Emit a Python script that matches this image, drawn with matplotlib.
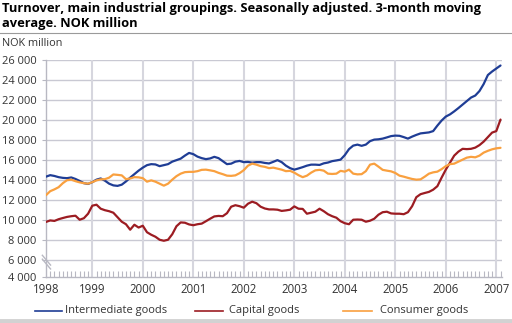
import numpy as np
import pandas as pd
import matplotlib
matplotlib.use("Agg")
import matplotlib.pyplot as plt
from matplotlib.lines import Line2D

plt.rcParams['font.family'] = ['Open Sans', 'DejaVu Sans']

title = "Turnover, main industrial groupings. Seasonally adjusted. 3-month moving\naverage. NOK million"
unit_label = "NOK million"
series_names = ["Intermediate goods", "Capital goods", "Consumer goods"]
series_colors = ["#1f3d95", "#9c1c22", "#f9a03f"]

months = pd.date_range("1998-02-01", periods=109, freq="MS")

intermediate = [
    14350, 14500, 14420, 14300, 14230, 14200, 14270, 14120, 13920, 13700, 13620,
    13800, 14050, 14170, 13950, 13650, 13480, 13430, 13550, 13870, 14250, 14600, 14950,
    15250, 15500, 15600, 15570, 15400, 15500, 15600, 15850, 16000, 16150, 16450, 16720,
    16600, 16350, 16200, 16100, 16170, 16330, 16200, 15900, 15600, 15650, 15850, 15920,
    15800, 15820, 15750, 15800, 15800, 15720, 15670, 15830, 16000, 15800, 15450, 15200,
    15050, 15170, 15300, 15450, 15550, 15550, 15520, 15680, 15760, 15900, 15970, 16050,
    16500, 17100, 17450, 17550, 17430, 17550, 17900, 18050, 18080, 18150, 18270, 18400,
    18450, 18430, 18300, 18150, 18350, 18520, 18670, 18720, 18770, 18900, 19450, 19950,
    20350, 20570, 20870, 21200, 21550, 21900, 22250, 22450, 22900, 23600, 24500, 24850,
    25150, 25450,
]
capital = [
    9830, 9980, 9930, 10100, 10220, 10330, 10400, 10450, 10050, 10200, 10650,
    11450, 11550, 11150, 11000, 10900, 10750, 10300, 9850, 9600, 9050, 9550, 9270,
    9450, 8800, 8550, 8350, 8050, 7950, 8050, 8600, 9400, 9780, 9750, 9580,
    9500, 9600, 9660, 9900, 10150, 10380, 10430, 10400, 10700, 11350, 11500, 11400,
    11250, 11650, 11850, 11700, 11350, 11170, 11080, 11080, 11050, 10930, 10980, 11050,
    11380, 11150, 11130, 10650, 10750, 10850, 11150, 10900, 10600, 10400, 10250, 9900,
    9700, 9600, 10050, 10070, 10050, 9850, 9950, 10150, 10550, 10800, 10850, 10680,
    10650, 10650, 10600, 10800, 11400, 12300, 12600, 12720, 12830, 13050, 13400, 14250,
    15050, 15750, 16450, 16850, 17130, 17100, 17130, 17250, 17500, 17850, 18300, 18750,
    18900, 20050,
]
consumer = [
    12500, 12900, 13080, 13300, 13700, 14000, 14050, 13900, 13780, 13700, 13650,
    13800, 13980, 14080, 14100, 14250, 14570, 14530, 14480, 14100, 14170, 14300, 14280,
    14200, 13850, 13980, 13850, 13650, 13450, 13650, 14050, 14400, 14650, 14800, 14830,
    14830, 14900, 15030, 15050, 14980, 14900, 14730, 14600, 14450, 14430, 14480, 14700,
    15000, 15450, 15650, 15550, 15400, 15330, 15200, 15250, 15150, 15050, 14900, 14930,
    14750, 14500, 14300, 14450, 14750, 14980, 15030, 14950, 14650, 14620, 14650, 14930,
    14850, 15050, 14650, 14580, 14600, 14900, 15550, 15650, 15350, 15030, 14950, 14880,
    14720, 14450, 14350, 14230, 14120, 14050, 14080, 14350, 14650, 14780, 14850, 15100,
    15400, 15600, 15650, 15850, 16050, 16250, 16330, 16280, 16450, 16750, 16930, 17080,
    17180, 17230,
]

year_labels = [str(y) for y in range(1998, 2008)]
y_ticks = [6000, 8000, 10000, 12000, 14000, 16000, 18000, 20000, 22000, 24000, 26000]
y_bottom_label = "4 000"

def fmt(v):
    return f"{v:,}".replace(",", " ")

# decimal year positions of monthly observations
t = months.year + (months.month - 1) / 12.0

W, H = 512, 323
fig = plt.figure(figsize=(W / 100, H / 100), dpi=100)
ax = fig.add_axes([46 / W, 1 - 277 / H, (502 - 46) / W, (277 - 60) / H])

ybot = 4330  # broken axis: nominal 4 000
ax.set_ylim(ybot, 26000)
ax.set_xlim(t[0], 2007.113)

grid_c = "#c9c9d3"
for y in y_ticks:
    ax.axhline(y, color=grid_c, lw=1.0, zorder=1)
for yr in range(1999, 2008):
    ax.axvline(yr, color="#d6d6de", lw=1.5, zorder=1)

data = [intermediate, capital, consumer]
for vals, c in zip(data, series_colors):
    ax.plot(t, vals, color=c, lw=1.6, zorder=3, solid_capstyle="round")

for s in ["top", "right"]:
    ax.spines[s].set_visible(False)
for s in ["left", "bottom"]:
    ax.spines[s].set_color("#b8b8c2")
    ax.spines[s].set_linewidth(1.0)

ax.set_yticks([ybot] + y_ticks)
ax.set_yticklabels([y_bottom_label] + [fmt(v) for v in y_ticks])
xt = [t[0]] + list(range(1999, 2008))
ax.set_xticks(xt)
ax.set_xticklabels(year_labels)
ax.set_xticks(t, minor=True)
ax.tick_params(axis="y", length=3, color="#b8b8c2", labelsize=8, labelcolor="#333333", pad=4)
ax.tick_params(axis="x", which="major", length=0, labelsize=8.3, labelcolor="#333333", pad=4)
ax.tick_params(axis="x", which="minor", direction="in", length=4, color="#b8b8c2", width=0.8)

# axis break marks
for dy in (0.0, 0.018):
    ax.plot([-0.008, 0.01], [0.10 - dy, 0.055 - dy], transform=ax.transAxes,
            color="#b8b8c2", lw=1.0, clip_on=False, zorder=4)

fig.text(2 / W, 1 - 2 / H, title, ha="left", va="top", fontsize=9.3,
         fontweight="bold", color="#000000", linespacing=1.15)
fig.add_artist(Line2D([0, 1], [1 - 33 / H] * 2, color="#9a9a9a", lw=0.8))
fig.text(2 / W, 1 - 44 / H, unit_label, ha="left", va="center", fontsize=7.8, color="#333333")

# legend
leg = [(35, 62, 65), (195, 223, 229), (343, 372, 380)]
ly = 1 - 311 / H
for (x0, x1, xt_), name, c in zip(leg, series_names, series_colors):
    fig.add_artist(Line2D([x0 / W, x1 / W], [ly, ly], color=c, lw=1.2))
    fig.text(xt_ / W, ly, name, ha="left", va="center", fontsize=8, color="#333333")
fig.add_artist(Line2D([0, 1], [1 - 320.5 / H] * 2, color="#d2d2d2", lw=3.5))

fig.savefig("out.png", dpi=100)
